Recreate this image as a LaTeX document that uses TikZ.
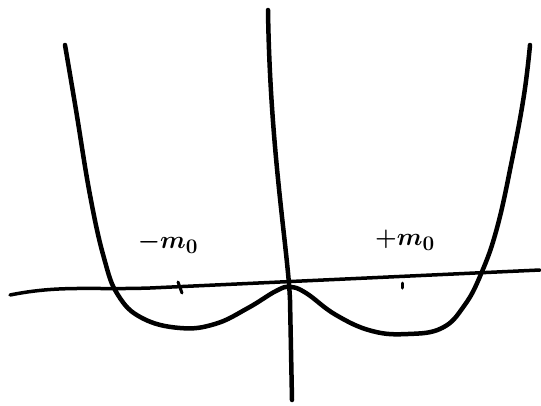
\documentclass[tikz,border=0pt]{standalone}
\begin{document}
\begin{tikzpicture}[x=1pt,y=-1pt,line cap=round,line join=round]
\tikzset{pen/.style={line width=4.5pt},
  lbl/.style={font=\Huge\boldmath}}
\useasboundingbox (0,0) rectangle (541,405);
% axes
\coordinate (xl) at (10,295);
\coordinate (xr) at (540,270);
\coordinate (yt) at (268,10);
\coordinate (yb) at (292,400);
\draw[pen,line width=3.5pt] (xl) .. controls (60,285) and (90,290) .. (150,288) -- (xr);
\draw[pen] (yt) .. controls (270,150) and (288,250) .. (290,300) -- (yb);
% curve
\draw[pen] plot[smooth,tension=0.7] coordinates{(65,45) (76,110) (90,195) (104,258) (118,295) (142,318) (180,328) (215,324) (248,308) (276,291) (290,287) (306,293) (336,315) (372,331) (408,334) (442,328) (464,306) (481,274) (497,228) (512,160) (524,95) (530,45)};
% ticks
\draw[pen,line width=3pt] (178,282) -- (182,293);
\draw[pen,line width=3pt] (402,283) -- (402,288);
% labels
\node[lbl] (mneg) at (168,243) {$-m_0$};
\node[lbl] (mpos) at (405,240) {$+m_0$};
\end{tikzpicture}
\end{document}
